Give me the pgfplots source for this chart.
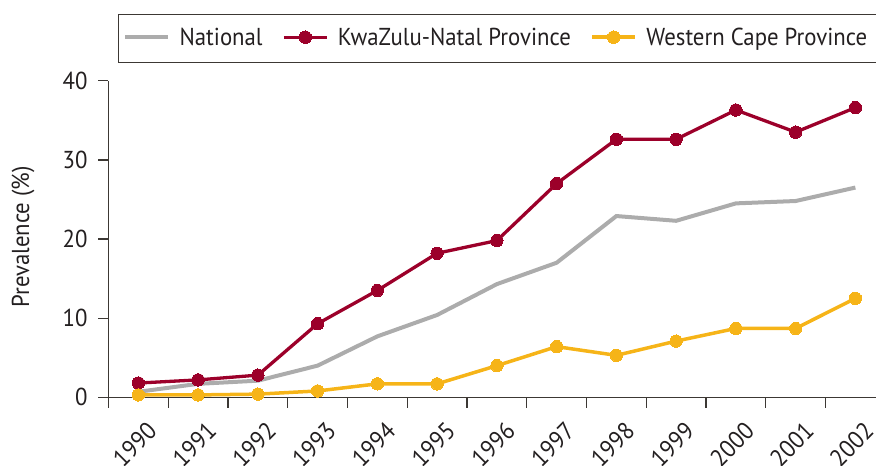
\documentclass[border=0pt]{standalone}
\usepackage{fontspec}
\setmainfont{PT Sans}[FakeStretch=0.93]
\usepackage{pgfplots}
\pgfplotsset{compat=1.18}
\definecolor{kzn}{RGB}{156,0,42}
\definecolor{wc}{RGB}{246,180,24}
\definecolor{nat}{RGB}{172,172,172}
\definecolor{axc}{RGB}{60,56,52}
\definecolor{txt}{RGB}{35,31,32}
\begin{document}
\begin{tikzpicture}[font=\fontsize{24.5pt}{29pt}\selectfont]
\useasboundingbox (-108.5pt,-68.7pt) rectangle (767.5pt,397.3pt);
\clip (-108.5pt,-68.7pt) rectangle (767.5pt,397.3pt);
\begin{axis}[
  scale only axis, width=767.5pt, height=316.6pt,
  xmin=-0.5, xmax=12.345, ymin=0, ymax=40,
  axis x line=bottom, axis y line=left,
  axis line style={-, draw=axc, line width=1.3pt},
  tick style={draw=axc, line width=1.3pt},
  tick align=outside,
  major tick length=10.5pt,
  xtick={-0.5,0.5,...,11.5},
  xticklabels={},
  extra x ticks={0,1,...,12},
  extra x tick labels={1990,1991,1992,1993,1994,1995,1996,1997,1998,1999,2000,2001,2002},
  extra x tick style={major tick length=0pt,
    xticklabel style={xshift=7.5pt, yshift=-23pt, rotate=45, anchor=north east, inner sep=0pt}},
  ytick={0,10,20,30,40},
  yticklabel style={xshift=-7pt},
  ticklabel style={text=txt},
  /pgf/number format/assume math mode=true,
  ylabel={Prevalence (\%)},
  ylabel style={at={(axis description cs:-0.1114,0.507)}, anchor=center, text=txt},
  clip=false,
  legend columns=-1,
  legend style={at={(axis description cs:0.0187,1.1374)}, anchor=west,
    draw=none, fill=none, inner sep=0pt, text=txt,
    nodes={text height=17.2pt, text depth=0pt, inner ysep=0pt, inner xsep=2pt},
    /tikz/every odd column/.append style={column sep=7.5pt},
    /tikz/every even column/.append style={column sep=17.5pt}},
  legend image code/.code={\draw[mark repeat=2,mark phase=2,#1] plot coordinates {(0pt,0pt) (21.5pt,0pt) (43pt,0pt)};},
]
\draw[axc, line width=1.2pt] (axis description cs:0.01277,1.2085) rectangle (axis description cs:1.03,1.0581);
\addplot[nat, line width=4pt] coordinates {
(0,0.7) (1,1.7) (2,2.1) (3,4.0) (4,7.7) (5,10.4) (6,14.3) (7,17.0) (8,22.9) (9,22.3) (10,24.5) (11,24.8) (12,26.5)};
\addlegendentry{National}
\addplot[kzn, line width=3.3pt, mark=*, mark size=6.2pt, mark options={fill=kzn, draw=kzn, line width=0pt}] coordinates {
(0,1.8) (1,2.2) (2,2.8) (3,9.3) (4,13.5) (5,18.2) (6,19.8) (7,27.0) (8,32.6) (9,32.6) (10,36.3) (11,33.5) (12,36.6)};
\addlegendentry{KwaZulu-Natal Province}
\addplot[wc, line width=3.5pt, mark=*, mark size=6.2pt, mark options={fill=wc, draw=wc, line width=0pt}] coordinates {
(0,0.3) (1,0.3) (2,0.4) (3,0.8) (4,1.7) (5,1.7) (6,4.0) (7,6.4) (8,5.3) (9,7.1) (10,8.7) (11,8.7) (12,12.5)};
\addlegendentry{Western Cape Province}
\end{axis}
\end{tikzpicture}
\end{document}
